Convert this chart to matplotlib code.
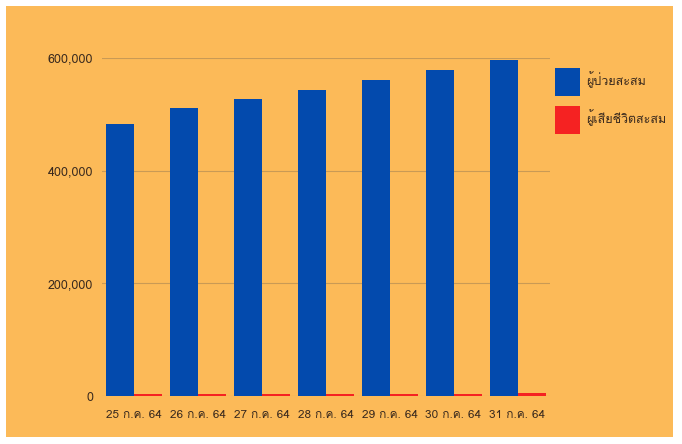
import matplotlib
matplotlib.use('Agg')
import matplotlib.pyplot as plt
from matplotlib import font_manager
from matplotlib.ft2font import FT2Font
from matplotlib.patches import Rectangle, Patch
import numpy as np

dates = ['25 ก.ค. 64', '26 ก.ค. 64', '27 ก.ค. 64', '28 ก.ค. 64',
         '29 ก.ค. 64', '30 ก.ค. 64', '31 ก.ค. 64']
cases = [481967, 511000, 526500, 543000, 561000, 578000, 597287]
deaths = [3930, 4010, 4090, 4170, 4270, 4400, 4860]
series_names = ['ผู้ป่วยสะสม', 'ผู้เสียชีวิตสะสม']
yticks = [0, 200000, 400000, 600000]
ytick_labels = ['0', '200,000', '400,000', '600,000']


def thai_fonts():
    names = []
    for f in font_manager.fontManager.ttflist:
        try:
            cm = FT2Font(f.fname).get_charmap()
        except Exception:
            continue
        if all(c in cm for c in (0x0E01, 0x0E39, 0x0E49, 0x0E2A)):
            if f.name not in names:
                names.append(f.name)
    return names

tf = thai_fonts()
families = tf[:1] + ['Liberation Sans', 'DejaVu Sans']
plt.rcParams['font.family'] = families

W, H = 682, 444
fig = plt.figure(figsize=(W / 100, H / 100), dpi=100)
fig.patch.set_facecolor('white')
fig.patches.append(Rectangle((6 / W, 7 / H), (673 - 6) / W, (437 - 6) / H,
                             transform=fig.transFigure, facecolor='#FCBA58',
                             edgecolor='none', zorder=-10))

ax = fig.add_axes([101.5 / W, (H - 396) / H, 448 / W, 338 / H])
ax.set_facecolor('none')

x = np.arange(len(dates))
w = 0.4375
blue = '#034AAD'
red = '#F52222'
ax.bar(x - w / 2, cases, w, color=blue, zorder=3)
ax.bar(x + w / 2, deaths, w, color=red, zorder=3)

ax.set_xlim(-0.5, len(dates) - 0.5)
ax.set_ylim(0, 600000)
ax.set_yticks(yticks)
ax.set_yticklabels(ytick_labels)
ax.set_xticks(x)
ax.set_xticklabels(dates)
ax.tick_params(axis='both', length=0, colors='#3a2a1e')
ax.tick_params(axis='y', pad=6, labelsize=9)
ax.tick_params(axis='x', pad=10, labelsize=8.5)
ax.grid(axis='y', color='#C99A55', lw=0.8, zorder=1)
for s in ax.spines.values():
    s.set_visible(False)

handles = [Patch(facecolor=blue), Patch(facecolor=red)]
ax.legend(handles, series_names, loc='upper left',
          bbox_to_anchor=(555 / W, (H - 68) / H), bbox_transform=fig.transFigure,
          frameon=False, fontsize=9, handlelength=2.0, handleheight=3.07,
          handletextpad=0.5, labelspacing=0.8, borderpad=0, borderaxespad=0,
          labelcolor='#3a2a1e')

fig.savefig('out.png', dpi=100, facecolor='white')
